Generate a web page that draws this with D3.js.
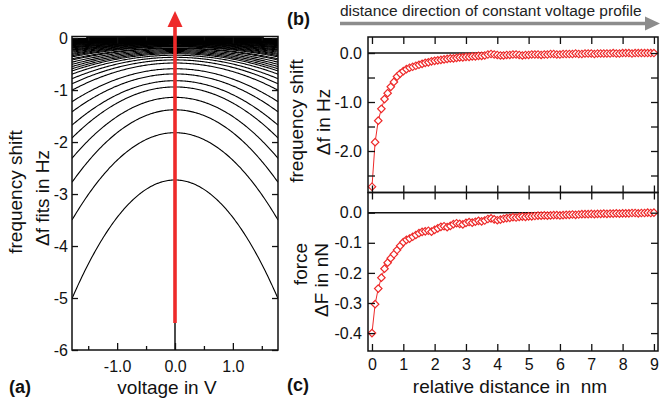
<!DOCTYPE html>
<html><head><meta charset="utf-8">
<script src="https://cdn.jsdelivr.net/npm/d3@7"></script>
<style>
html,body{margin:0;padding:0;background:#fff;}
svg{display:block;font-family:"Liberation Sans",Arial,Helvetica,sans-serif;}
</style></head><body>
<svg id="fig" width="660" height="405"></svg>
<script>
// tip–sample distance steps of the constant voltage profile (nm)
const distance = [
  0.0,0.1,0.2,0.3,0.4,0.5,0.6,0.7,0.8,0.9,
  1.0,1.1,1.2,1.3,1.4,1.5,1.6,1.7,1.8,1.9,
  2.0,2.1,2.2,2.3,2.4,2.5,2.6,2.7,2.8,2.9,
  3.0,3.1,3.2,3.3,3.4,3.5,3.6,3.7,3.8,3.9,
  4.0,4.1,4.2,4.3,4.4,4.5,4.6,4.7,4.8,4.9,
  5.0,5.1,5.2,5.3,5.4,5.5,5.6,5.7,5.8,5.9,
  6.0,6.1,6.2,6.3,6.4,6.5,6.6,6.7,6.8,6.9,
  7.0,7.1,7.2,7.3,7.4,7.5,7.6,7.7,7.8,7.9,
  8.0,8.1,8.2,8.3,8.4,8.5,8.6,8.7,8.8,8.9,
  9.0
];
// frequency shift at the parabola apex (Hz)
const freqShift = [
  -2.73,-1.82,-1.38,-1.14,-0.94,-0.82,-0.69,-0.59,-0.48,-0.42,
  -0.37,-0.33,-0.30,-0.28,-0.26,-0.24,-0.22,-0.20,-0.19,-0.17,
  -0.16,-0.15,-0.14,-0.13,-0.12,-0.11,-0.11,-0.10,-0.09,-0.09,
  -0.08,-0.08,-0.07,-0.07,-0.06,-0.06,-0.05,-0.03,-0.02,-0.03,
  -0.04,-0.05,-0.05,-0.04,-0.04,-0.03,-0.03,-0.04,-0.05,-0.04,
  -0.04,-0.03,-0.03,-0.03,-0.04,-0.03,-0.03,-0.02,-0.02,-0.03,
  -0.03,-0.02,-0.02,-0.02,-0.02,-0.01,-0.02,-0.02,-0.01,-0.01,
  -0.01,-0.02,-0.01,-0.01,-0.01,-0.01,-0.01,0.00,-0.01,-0.01,
  0.00,0.00,0.00,-0.01,0.00,0.00,0.00,0.00,0.00,0.00,
  0.00
];
// curvature of each parabolic fit (Hz / V^2)
const fitCurvature = [
  0.72,0.53,0.44,0.37,0.31,0.27,0.23,0.20,0.165,0.145,
  0.13,0.115,0.105,0.098,0.091,0.084,0.077,0.070,0.066,0.060,
  0.056,0.052,0.049,0.045,0.042,0.038,0.038,0.035,0.031,0.031,
  0.028,0.028,0.024,0.024,0.021,0.021,0.017,0.011,0.008,0.011,
  0.014,0.017,0.017,0.014,0.014,0.011,0.011,0.014,0.017,0.014,
  0.014,0.011,0.011,0.011,0.014,0.011,0.011,0.008,0.008,0.011,
  0.011,0.008,0.008,0.008,0.008,0.005,0.008,0.008,0.005,0.005,
  0.005,0.008,0.005,0.005,0.005,0.005,0.005,0.003,0.005,0.005,
  0.003,0.003,0.003,0.005,0.003,0.003,0.003,0.003,0.003,0.003,
  0.003
];
// force derived from the frequency shift (nN)
const force = [
  -0.400,-0.304,-0.252,-0.216,-0.186,-0.166,-0.151,-0.138,-0.124,-0.110,
  -0.098,-0.090,-0.086,-0.080,-0.074,-0.068,-0.064,-0.062,-0.060,-0.063,
  -0.057,-0.052,-0.047,-0.045,-0.048,-0.044,-0.038,-0.035,-0.037,-0.039,
  -0.034,-0.031,-0.033,-0.030,-0.027,-0.029,-0.026,-0.021,-0.019,-0.022,
  -0.025,-0.023,-0.020,-0.018,-0.017,-0.015,-0.016,-0.014,-0.013,-0.014,
  -0.012,-0.012,-0.011,-0.010,-0.010,-0.009,-0.010,-0.009,-0.008,-0.008,
  -0.009,-0.008,-0.007,-0.007,-0.006,-0.007,-0.006,-0.005,-0.005,-0.005,
  -0.004,-0.005,-0.004,-0.004,-0.003,-0.004,-0.003,-0.003,-0.002,-0.003,
  -0.002,-0.002,-0.002,-0.001,-0.001,-0.002,-0.001,-0.001,0.000,-0.001,
  0.000
];

// tick values
const voltMajor = [-1, 0, 1];
const voltMinor = [-1.5, -0.5, 0.5, 1.5];
const fitTicks = [0, -1, -2, -3, -4, -5, -6];
const distTicks = [0, 1, 2, 3, 4, 5, 6, 7, 8, 9];
const shiftTicks = [0, -1, -2];
const shiftMinor = [-0.5, -1.5, -2.5];
const forceTicks = [0, -0.1, -0.2, -0.3, -0.4];

const RED = "#ee2a2a";
const svg = d3.select("#fig");

// ---------- scales ----------
const xA = d3.scaleLinear([-1.78, 1.78], [72, 278]);
const yA = d3.scaleLinear([-6, 0.03], [350, 36.5]);
const xB = d3.scaleLinear([-0.127, 9.13], [368, 658]);
const yB = d3.scaleLinear([-2.847, 0.327], [192.5, 37]);
const yC = d3.scaleLinear([-0.4595, 0.0671], [351, 192.5]);

function styleAxis(g, size) {
  g.select(".domain").remove();
  g.attr("font-size", size).attr("font-family", null);
  g.selectAll("line").attr("stroke", "#111").attr("stroke-width", 1.3);
  g.selectAll("text").attr("fill", "#111");
}

// ---------- panel (a): parabolic fits ----------
const gA = svg.append("g");
svg.append("defs").append("clipPath").attr("id", "clipA")
  .append("rect").attr("x", 72).attr("y", 36.5).attr("width", 206).attr("height", 313.5);

const voltages = d3.range(-1.78, 1.7801, 0.02);
const fitLine = d3.line().x(d => xA(d[0])).y(d => yA(d[1]));
gA.append("g").attr("clip-path", "url(#clipA)")
  .selectAll("path").data(freqShift.map((f, i) => ({apex: f, k: fitCurvature[i]})))
  .join("path")
  .attr("fill", "none").attr("stroke", "#000").attr("stroke-width", 1.1)
  .attr("d", c => fitLine(voltages.map(v => [v, c.apex - c.k * v * v])));

// vertical marker at V = 0 below the arrow
gA.append("line").attr("x1", xA(0)).attr("x2", xA(0))
  .attr("y1", yA(-6)).attr("y2", yA(-5.48)).attr("stroke", "#000").attr("stroke-width", 1.4);

// axes for (a)
gA.append("g").attr("transform", `translate(0,${yA.range()[0]})`)
  .call(d3.axisBottom(xA).tickValues(voltMajor).tickSize(-7).tickPadding(11).tickFormat(d => d.toFixed(1)))
  .call(g => styleAxis(g, 16));
gA.append("g").attr("transform", `translate(0,${yA.range()[0]})`)
  .call(d3.axisBottom(xA).tickValues(voltMinor).tickSize(-4).tickFormat(""))
  .call(g => styleAxis(g, 16));
gA.append("g").attr("transform", `translate(0,${yA.range()[1]})`)
  .call(d3.axisTop(xA).tickValues(voltMajor).tickSize(-7).tickFormat(""))
  .call(g => styleAxis(g, 16));
gA.append("g").attr("transform", `translate(0,${yA.range()[1]})`)
  .call(d3.axisTop(xA).tickValues(voltMinor).tickSize(-4).tickFormat(""))
  .call(g => styleAxis(g, 16));
gA.append("g").attr("transform", `translate(${xA.range()[0]},0)`)
  .call(d3.axisLeft(yA).tickValues(fitTicks).tickSize(-6).tickPadding(4).tickFormat(d => String(d)))
  .call(g => styleAxis(g, 16));
gA.append("g").attr("transform", `translate(${xA.range()[1]},0)`)
  .call(d3.axisRight(yA).tickValues(fitTicks).tickSize(-6).tickFormat(""))
  .call(g => styleAxis(g, 16));
gA.append("rect").attr("x", 72).attr("y", 36.5).attr("width", 206).attr("height", 313.5)
  .attr("fill", "none").attr("stroke", "#111").attr("stroke-width", 1.5);

// red arrow along the voltage of the profile
gA.append("line").attr("x1", xA(0)).attr("x2", xA(0))
  .attr("y1", yA(-5.48)).attr("y2", 24).attr("stroke", RED).attr("stroke-width", 3.6);
gA.append("path").attr("fill", RED)
  .attr("d", `M${xA(0)},11 L${xA(0) - 7.5},27 L${xA(0) + 7.5},27 Z`);

// titles (a)
gA.append("text").attr("transform", "translate(22,192) rotate(-90)")
  .attr("text-anchor", "middle").attr("font-size", 19).attr("fill", "#111").text("frequency shift");
gA.append("text").attr("transform", "translate(49,198) rotate(-90)")
  .attr("text-anchor", "middle").attr("font-size", 19).attr("fill", "#111").text("\u0394f fits in Hz");
gA.append("text").attr("x", 167).attr("y", 394)
  .attr("text-anchor", "middle").attr("font-size", 19).attr("fill", "#111").text("voltage in V");
gA.append("text").attr("x", 9).attr("y", 393)
  .attr("font-size", 18).attr("font-weight", "bold").attr("fill", "#111").text("(a)");

// ---------- panel (b): frequency shift vs distance ----------
const gB = svg.append("g");
gB.append("line").attr("x1", 368).attr("x2", 658).attr("y1", yB(0)).attr("y2", yB(0))
  .attr("stroke", "#111").attr("stroke-width", 1.4);

const marker = d3.symbol(d3.symbolSquare, 28);
function drawSeries(g, yScale, values) {
  const pts = distance.map((d, i) => [d, values[i]]);
  g.append("path").attr("fill", "none").attr("stroke", RED).attr("stroke-width", 1)
    .attr("d", d3.line().x(d => xB(d[0])).y(d => yScale(d[1]))(pts));
  g.selectAll("path.pt").data(pts).join("path").attr("class", "pt")
    .attr("transform", d => `translate(${xB(d[0])},${yScale(d[1])}) rotate(45)`)
    .attr("d", marker).attr("fill", "#fff").attr("stroke", RED).attr("stroke-width", 1.2);
}
drawSeries(gB, yB, freqShift);

gB.append("g").attr("transform", `translate(0,${yB.range()[1]})`)
  .call(d3.axisTop(xB).tickValues(distTicks).tickSize(-7).tickFormat(""))
  .call(g => styleAxis(g, 16));
gB.append("g").attr("transform", `translate(0,${yB.range()[0]})`)
  .call(d3.axisBottom(xB).tickValues(distTicks).tickSize(-7).tickFormat(""))
  .call(g => styleAxis(g, 16));
gB.append("g").attr("transform", "translate(368,0)")
  .call(d3.axisLeft(yB).tickValues(shiftTicks).tickSize(-7).tickPadding(6).tickFormat(d => d.toFixed(1)))
  .call(g => styleAxis(g, 16));
gB.append("g").attr("transform", "translate(368,0)")
  .call(d3.axisLeft(yB).tickValues(shiftMinor).tickSize(-7).tickFormat(""))
  .call(g => styleAxis(g, 16));
gB.append("g").attr("transform", "translate(658,0)")
  .call(d3.axisRight(yB).tickValues(shiftTicks.concat(shiftMinor)).tickSize(-7).tickFormat(""))
  .call(g => styleAxis(g, 16));
gB.append("rect").attr("x", 368).attr("y", 37).attr("width", 290).attr("height", 155.5)
  .attr("fill", "none").attr("stroke", "#111").attr("stroke-width", 1.5);

gB.append("text").attr("transform", "translate(303,121) rotate(-90)")
  .attr("text-anchor", "middle").attr("font-size", 19).attr("fill", "#111").text("frequency shift");
gB.append("text").attr("transform", "translate(330,122) rotate(-90)")
  .attr("text-anchor", "middle").attr("font-size", 19).attr("fill", "#111").text("\u0394f in Hz");
gB.append("text").attr("x", 287).attr("y", 25)
  .attr("font-size", 18).attr("font-weight", "bold").attr("fill", "#111").text("(b)");

// direction arrow above (b)
gB.append("text").attr("x", 340).attr("y", 16)
  .attr("font-size", 15.5).attr("fill", "#222").text("distance direction of constant voltage profile");
gB.append("line").attr("x1", 340).attr("x2", 647).attr("y1", 23.5).attr("y2", 23.5)
  .attr("stroke", "#8c8c8c").attr("stroke-width", 3.4);
gB.append("path").attr("fill", "#8c8c8c").attr("d", "M660,23.5 L645,16.5 L645,30.5 Z");

// ---------- panel (c): force vs distance ----------
const gC = svg.append("g");
gC.append("line").attr("x1", 368).attr("x2", 658).attr("y1", yC(0)).attr("y2", yC(0))
  .attr("stroke", "#111").attr("stroke-width", 1.4);
drawSeries(gC, yC, force);

gC.append("g").attr("transform", `translate(0,${yC.range()[1]})`)
  .call(d3.axisTop(xB).tickValues(distTicks).tickSize(-7).tickFormat(""))
  .call(g => styleAxis(g, 16));
gC.append("g").attr("transform", `translate(0,${yC.range()[0]})`)
  .call(d3.axisBottom(xB).tickValues(distTicks).tickSize(-7).tickPadding(8).tickFormat(d => String(d)))
  .call(g => styleAxis(g, 16));
gC.append("g").attr("transform", "translate(368,0)")
  .call(d3.axisLeft(yC).tickValues(forceTicks).tickSize(-7).tickPadding(6).tickFormat(d => d.toFixed(1)))
  .call(g => styleAxis(g, 16));
gC.append("g").attr("transform", "translate(658,0)")
  .call(d3.axisRight(yC).tickValues(forceTicks).tickSize(-7).tickFormat(""))
  .call(g => styleAxis(g, 16));
gC.append("rect").attr("x", 368).attr("y", 192.5).attr("width", 290).attr("height", 158.5)
  .attr("fill", "none").attr("stroke", "#111").attr("stroke-width", 1.5);

gC.append("text").attr("transform", "translate(307,264) rotate(-90)")
  .attr("text-anchor", "middle").attr("font-size", 19).attr("fill", "#111").text("force");
gC.append("text").attr("transform", "translate(328,280) rotate(-90)")
  .attr("text-anchor", "middle").attr("font-size", 19).attr("fill", "#111").text("\u0394F in nN");
gC.append("text").attr("x", 510).attr("y", 393)
  .attr("text-anchor", "middle").attr("font-size", 19).attr("fill", "#111").attr("xml:space", "preserve")
  .style("white-space", "pre").text("relative distance in  nm");
gC.append("text").attr("x", 287).attr("y", 391)
  .attr("font-size", 18).attr("font-weight", "bold").attr("fill", "#111").text("(c)");
</script>
</body></html>
